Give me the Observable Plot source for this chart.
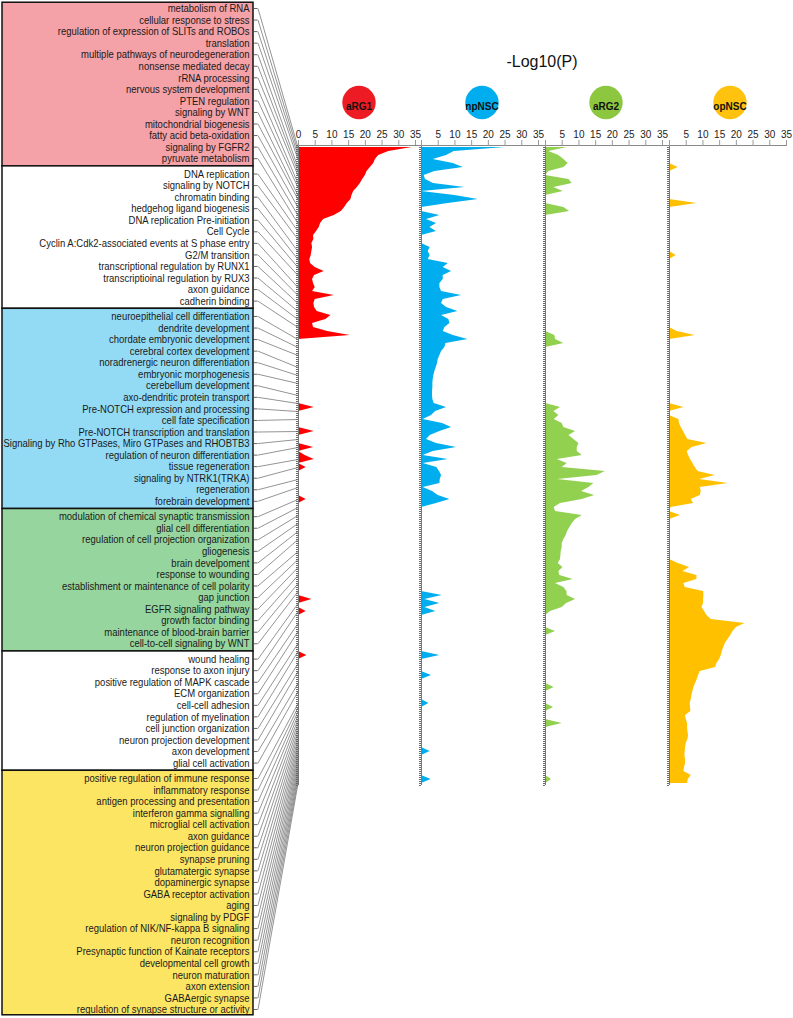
<!DOCTYPE html>
<html>
<head>
<meta charset="utf-8">
<script src="https://cdn.jsdelivr.net/npm/d3@7"></script>
<script src="https://cdn.jsdelivr.net/npm/@observablehq/plot@0.6"></script>
<style>
  body { margin: 0; background: #fff; }
  #root { position: relative; width: 793px; height: 1018px; overflow: hidden; font-family: "Liberation Sans", Arial, sans-serif; }
  .abs { position: absolute; top: 0; }
  #title { position: absolute; left: 442px; width: 200px; top: 53px; line-height: 18px; text-align: center; font-size: 16px; color: #111; }
</style>
</head>
<body>
<div id="root"><div id="title">-Log10(P)</div></div>
<script>
// ---------------- DATA ----------------
const pinkTerms = ["metabolism of RNA","cellular response to stress","regulation of expression of SLITs and ROBOs","translation","multiple pathways of neurodegeneration","nonsense mediated decay","rRNA processing","nervous system development","PTEN regulation","signaling by WNT","mitochondrial biogenesis","fatty acid beta-oxidation","signaling by FGFR2","pyruvate metabolism"];
const white1Terms = ["DNA replication","signaling by NOTCH","chromatin binding","hedgehog ligand biogenesis","DNA replication Pre-initiation","Cell Cycle","Cyclin A:Cdk2-associated events at S phase entry","G2/M transition","transcriptional regulation by RUNX1","transcriptioinal regulation by RUX3","axon guidance","cadherin binding"];
const blueTerms = ["neuroepithelial cell differentiation","dendrite development","chordate embryonic development","cerebral cortex development","noradrenergic neuron differentiation","embryonic morphogenesis","cerebellum development","axo-dendritic protein transport","Pre-NOTCH expression and processing","cell fate specification","Pre-NOTCH transcription and translation","Signaling by Rho GTPases, Miro GTPases and RHOBTB3","regulation of neuron differentiation","tissue regeneration","signaling by NTRK1(TRKA)","regeneration","forebrain development"];
const greenTerms = ["modulation of chemical synaptic transmission","glial cell differentiation","regulation of cell projection organization","gliogenesis","brain develpoment","response to wounding","establishment or maintenance of cell polarity","gap junction","EGFR signaling pathway","growth factor binding","maintenance of blood-brain barrier","cell-to-cell signaling by WNT"];
const white2Terms = ["wound healing","response to axon injury","positive regulation of MAPK cascade","ECM organization","cell-cell adhesion","regulation of myelination","cell junction organization","neuron projection development","axon development","glial cell activation"];
const yellowTerms = ["positive regulation of immune response","inflammatory response","antigen processing and presentation","interferon gamma signalling","microglial cell activation","axon guidance","neuron projection guidance","synapse pruning","glutamatergic synapse","dopaminergic synapse","GABA receptor activation","aging","signaling by PDGF","regulation of NIK/NF-kappa B signaling","neuron recognition","Presynaptic function of Kainate receptors","developmental cell growth","neuron maturation","axon extension","GABAergic synapse","regulation of synapse structure or activity"];

// row (in the ranked term list) that each label points to
const pinkRows   = [0,1,2,3,5,6,7,9,10,12,13,15,17,19];
const white1Rows = [21,23,26,28,30,32,35,37,39,41,43,45];
const blueRows   = [48,50,52,55,57,59,62,64,66,68,71,73,75,78,80,83,85];
const greenRows  = [88,90,92,94,96,98,101,103,105,107,109,111];
const white2Rows = [114,116,119,121,124,126,129,131,134,136];
const yellowRows = [139,140,141,142,143,144,145,146,147,148,149,150,151,152,153,154,155,156,157,158,159];

const groupFills = ["#f4a1a7","#ffffff","#93dbf5","#96d59e","#ffffff","#fde564"];

// -Log10(P) per ranked term row (160 rows)
const aRG1 = [
  34,27,24,23,22.5,21.5,20.5,20,19.2,18.5,
  17.6,16.5,16,15.7,14.6,13.8,12.8,10.7,7.5,6.6,
  6.2,5.4,4.5,4.6,4,4.2,4,3.8,3.4,3.6,
  5,7.7,4.8,4.2,4.5,5,4.2,10.7,5,4.6,
  4.8,5.6,9.7,8.2,4.2,4.5,8.7,15.5,0,0,
  0,0,0,0,0,0,0,0,0,0,
  0,0,0,0,0,4.7,0,0,0,0,
  0,4.7,0,0,0,4.5,0,2,4.7,0,
  2.3,0,0,0,0,0,0,0,2.3,0,
  0,0,0,0,0,0,0,0,0,0,
  0,0,0,0,0,0,0,0,0,0,
  0,0,0,4,0,0,2.3,0,0,0,
  0,0,0,0,0,0,0,2.5,0,0,
  0,0,0,0,0,0,0,0,0,0,
  0,0,0,0,0,0,0,0,0,0,
  0,0,0,0,0,0,0,0,0,0
];
const npNSC = [
  25,9.8,7.5,3.5,9.5,12.5,4,0.8,1.2,3.6,
  13,0,10,17,8,0,0,5.5,1.5,4.5,
  2.5,4.5,0,0,0,2.6,2,2.6,2,8,
  6.5,9,6.5,6.5,5.5,5.5,6,12,6.5,6,
  7.5,10.9,6,8.2,8.5,7,6.5,9.5,13.9,7.3,
  7,6,5.5,5,4.8,4.4,4,3.7,3.5,3.4,
  3.4,3.3,3.3,3.4,3.8,7.5,4.2,3,0.5,6.3,
  9,5.5,2.6,1.5,4.5,10.5,3.5,0.5,8,0.5,
  4.6,5.4,6,5.6,5.5,0.5,3.3,5,8.5,4.5,
  0,0,0,0,0,0,0,0,0,0,
  0,0,0,0,0,0,0,0,0,0,
  0,0,6.2,1,5.5,1,4.3,0,0,0,
  0,0,0,0,0,0,0,5.5,0,0,
  0,0,3,0,0,0,0,0,0,2.2,
  0,0,0,0,0,0,0,0,0,0,
  0,2.6,0,0,0,0,0,0,2.9,0
];
const aRG2 = [
  6.5,1,4,5.5,6.8,5.5,1,0,7,8,
  2.5,5.3,0,0,0,5.5,7.2,0,0,0,
  0,0,0,0,0,0,0,0,0,0,
  0,0,0,0,0,0,0,0,0,0,
  0,0,0,0,0,0,0,2.8,3,5.5,
  0,0,0,0,0,0,0,0,0,0,
  0,0,0,0,0,4.5,2.5,4,2.6,5,
  5.5,9,7,8.5,10,9.5,9.5,11,3.5,6.5,
  5,17.9,15.4,3.6,14.5,13,10.8,14.7,11,4.5,
  2.6,3,11,9,8,7.3,6.6,6.2,5.5,5,
  5,4.7,4.6,4.5,3.8,5.2,4,4.3,8.3,3,
  5.5,6.4,6.5,9,6.3,5,1.5,0,0,0,
  0,3,0,0,0,0,0,0,0,0,
  0,0,0,0,0,2.6,0,0,0,0,
  2.4,0,0,0,5,0,0,0,0,0,
  0,0,0,0,0,0,0,0,1.8,0
];
const opNSC = [
  0,0,0,0,0,2.6,0,0,0,0,
  0,0,0,0,8.2,0,0,0,0,0,
  0,0,0,0,0,0,0,2,0,0,
  0,0,0,0,0,0,0,0,0,0,
  0,0,0,0,0,0,2.3,7.7,0,0,
  0,0,0,0,0,0,0,0,0,0,
  0,0,0,0,0,4.3,0,0,2.8,3,
  3.5,4.2,4.8,5.5,11.2,6.8,5.3,5.7,6.3,7,
  7.7,8.5,13.7,9,17.6,9.2,9.5,9.2,6.5,7.2,
  0.5,0,3.3,0,0,0,0,0,0,0,
  0,0,0,0,2.6,6,4,8.2,8.2,4.3,
  4.7,10.2,10.3,10.2,10.2,9.7,10.5,11.2,12.5,22.6,
  20,19,18.3,17.5,16.7,16.2,15.8,15.5,15,14.2,
  13.8,9.2,8.7,8.3,7.8,7.3,7,6.7,6.5,6.2,
  6.3,6.4,4.8,5,5.4,5.4,5.5,5.7,5.5,5,
  4.8,4.7,4.6,4.8,4.8,4.5,4.3,6.5,5.6,5.4
];

const panelNames = ["aRG1","npNSC","aRG2","opNSC"];
const panelSeries = [aRG1, npNSC, aRG2, opNSC];
const areaFills = ["#ff0000","#00aeef","#92d050","#ffc000"];
const circleFills = ["#ed1c24","#00aeef","#8dc63f","#ffc20e"];
const xTickValues = [0,5,10,15,20,25,30,35];

// ---------------- LAYOUT ----------------
const N = aRG1.length;
const PANEL_ZERO = [297.5, 421, 545, 669];
const PANEL_W = 117, PM = 6, TOP = 145, BOTTOM = 785, SVG_H = 790;
const LABEL_TOP = 8, LABEL_BOTTOM = 1009, GAP = 0.33;
const BOX_LEFT = 2, BOX_RIGHT = 253, TEXT_X = 249, TICK_END = 257.5;
const FONT = "Liberation Sans Narrow, Arial Narrow, Liberation Sans, Arial, sans-serif";

const root = document.getElementById("root");
const rows = d3.range(N).map(r => {
  const o = {row: r};
  panelNames.forEach((n, i) => o[n] = panelSeries[i][r]);
  return o;
});
const yTicks = d3.range(-0.5, N, 0.5);

let yPanel = null;
panelNames.forEach((name, i) => {
  const chart = Plot.plot({
    width: PANEL_W + 2 * PM, height: SVG_H,
    marginLeft: PM, marginRight: PM, marginTop: TOP, marginBottom: SVG_H - BOTTOM,
    x: {domain: [0, 35], axis: null},
    y: {domain: [-0.5, N - 0.5], reverse: true, axis: null},
    style: {background: "none", overflow: "visible", fontFamily: "Liberation Sans, Arial, sans-serif", fontSize: "10px"},
    marks: [
      Plot.areaX(rows, {y: "row", x: name, fill: areaFills[i], curve: "linear"}),
      Plot.ruleX([0], {stroke: "#777", strokeWidth: 1}),
      Plot.axisY({anchor: "left", ticks: yTicks, tickSize: 2, tickFormat: () => "", label: null, stroke: "#444", strokeWidth: 0.8}),
      Plot.ruleY([-0.5], {x1: i === 0 ? 0 : -1.9, x2: 35, stroke: "#888"}),
      Plot.axisX({anchor: "top", ticks: xTickValues, tickSize: 6, tickPadding: 2, stroke: "#999", label: null,
                  fill: "#222", fontSize: 10,
                  tickFormat: d => (i === 0 || d !== 0) ? String(d) : ""}),
      Plot.dot([name], {frameAnchor: "top", dy: -43, dx: 2, r: 16.7, fill: circleFills[i]}),
      Plot.text([name], {frameAnchor: "top", dy: -43, dx: 2, text: d => d, fontWeight: "bold", fontSize: 10, fill: "#111"})
    ]
  });
  chart.classList.add("abs");
  chart.style.left = (PANEL_ZERO[i] - PM) + "px";
  root.appendChild(chart);
  if (i === 0) yPanel = chart.scale("y");
});

// ---------------- LABEL PANEL ----------------
const groupTerms = [pinkTerms, white1Terms, blueTerms, greenTerms, white2Terms, yellowTerms];
const groupRows = [pinkRows, white1Rows, blueRows, greenRows, white2Rows, yellowRows];
const totalLabels = d3.sum(groupTerms, g => g.length);
const S = (totalLabels - 1) + (groupTerms.length - 1) * GAP;
const labelY = d3.scaleLinear([0, S], [LABEL_TOP, LABEL_BOTTOM]);

const labels = [];
const groups = [];
let k = 0;
groupTerms.forEach((terms, g) => {
  const s0 = k + g * GAP;
  terms.forEach((t, j) => {
    const slot = k + g * GAP;
    const targetPx = yPanel.apply(groupRows[g][j]);
    labels.push({term: t, slot, target: labelY.invert(targetPx)});
    k++;
  });
  const s1 = (k - 1) + g * GAP;
  groups.push({
    fill: groupFills[g],
    y1: g === 0 ? s0 - 0.5 : s0 - (1 + GAP) / 2,
    y2: g === groupTerms.length - 1 ? s1 + 0.5 : s1 + (1 + GAP) / 2
  });
});

const labelChart = Plot.plot({
  width: 300, height: 1018, margin: 0,
  x: {type: "identity", axis: null},
  y: {domain: [0, S], range: [LABEL_TOP, LABEL_BOTTOM], axis: null},
  color: {type: "identity"},
  style: {background: "none", overflow: "visible"},
  marks: [
    Plot.rect(groups, {x1: BOX_LEFT, x2: BOX_RIGHT, y1: "y1", y2: "y2", fill: "fill", stroke: "#111", strokeWidth: 1.5}),
    Plot.text(labels, {x: TEXT_X, y: "slot", text: "term", textAnchor: "end", fontSize: 11.5, fontFamily: FONT, fill: "#1a1a1a"}),
    Plot.ruleY(labels, {y: "slot", x1: BOX_RIGHT, x2: TICK_END, stroke: "#444", strokeWidth: 0.8}),
    Plot.link(labels, {x1: TICK_END, y1: "slot", x2: PANEL_ZERO[0], y2: "target", stroke: "#666", strokeWidth: 0.7})
  ]
});
labelChart.classList.add("abs");
labelChart.style.left = "0px";
root.appendChild(labelChart);

// fit label text width to the box (narrow font look)
const texts = Array.from(labelChart.querySelectorAll('g[aria-label="text"] text'));
const widths = texts.map(t => t.getComputedTextLength());
const maxW = d3.max(widths);
const factor = Math.min(1, (TEXT_X - BOX_LEFT - 1) / maxW);
if (factor < 0.999) {
  texts.forEach((t, i) => {
    t.setAttribute("textLength", (widths[i] * factor).toFixed(2));
    t.setAttribute("lengthAdjust", "spacingAndGlyphs");
  });
}
</script>
</body>
</html>
